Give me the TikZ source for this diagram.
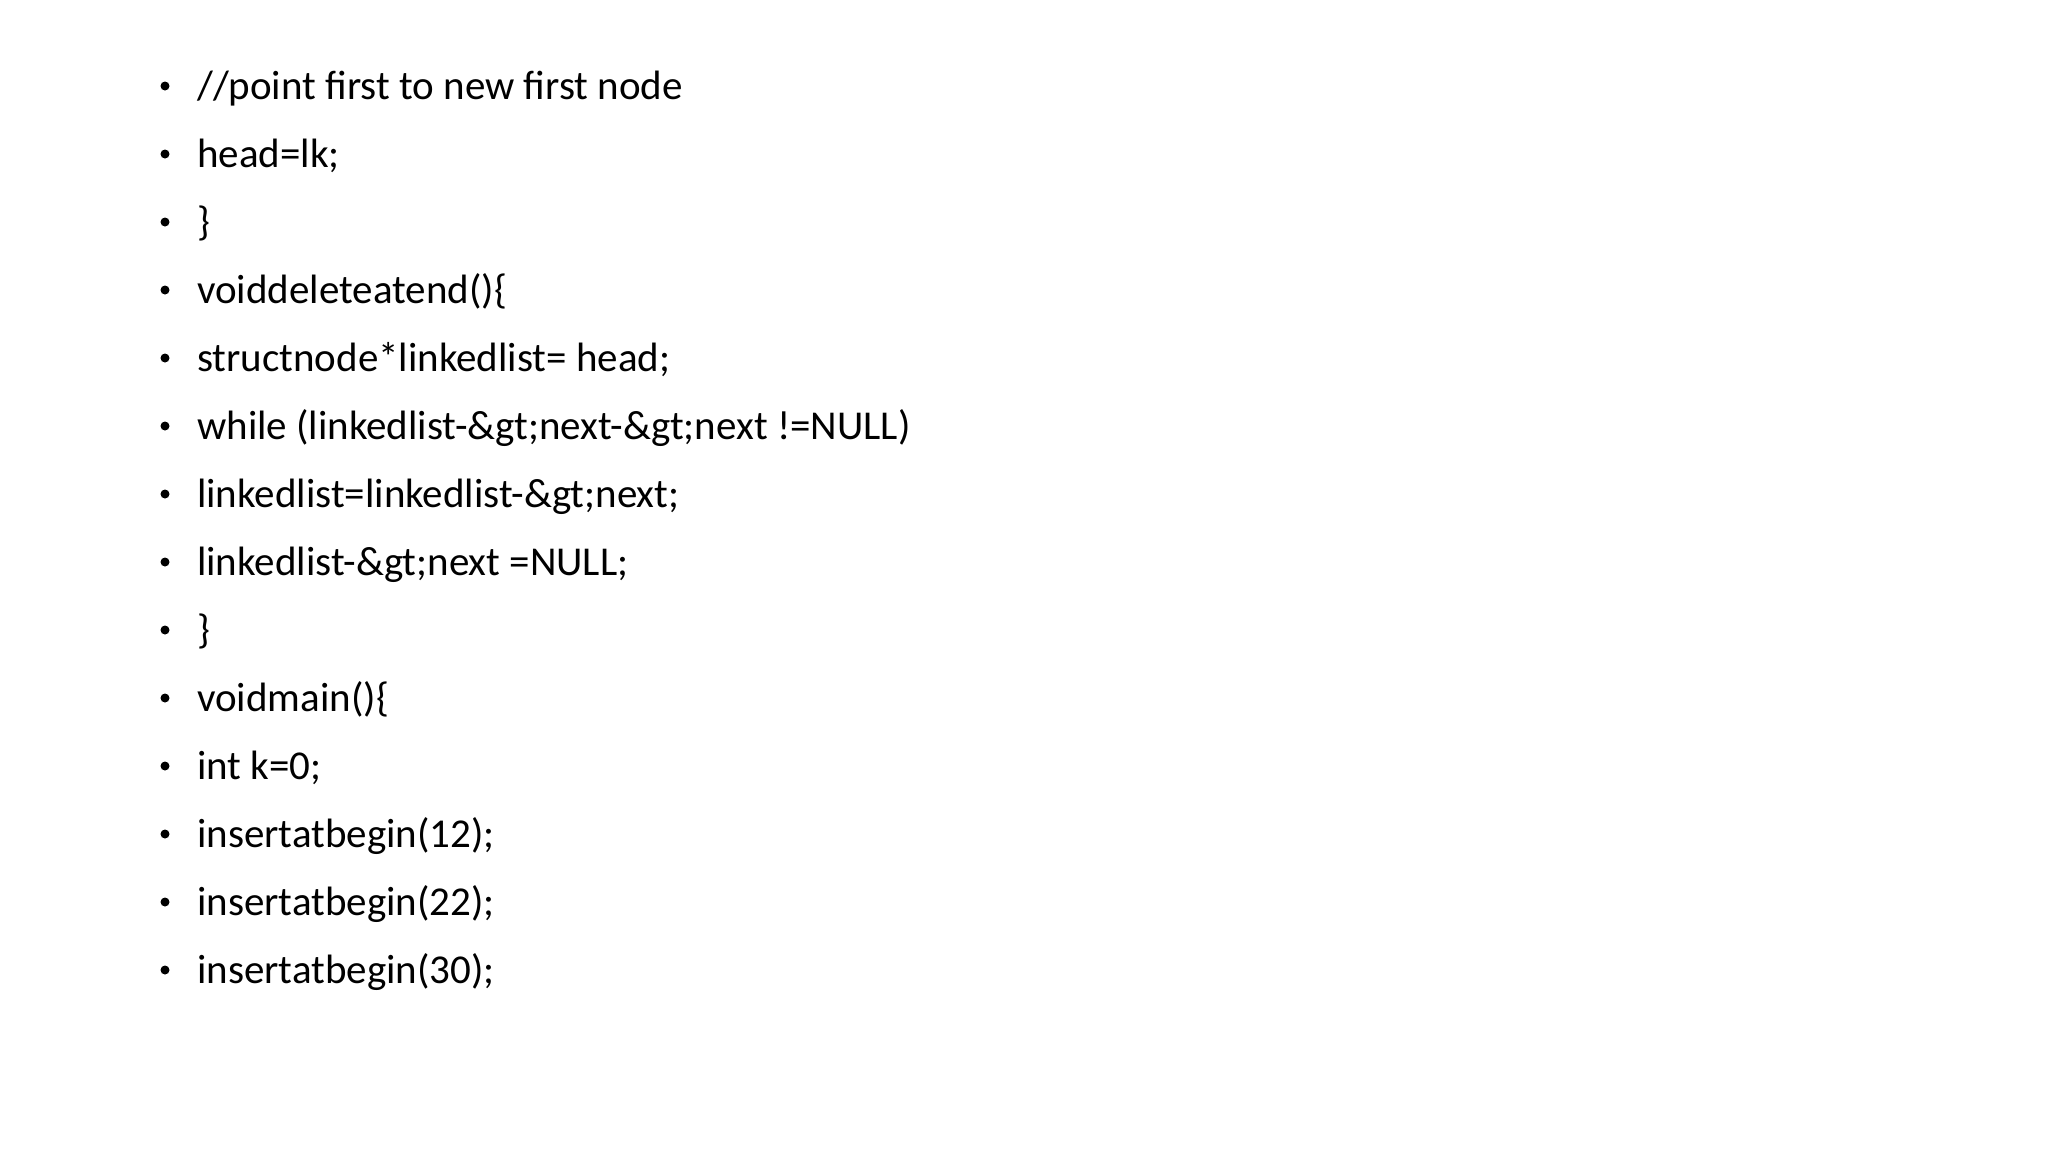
\documentclass[tikz,border=0pt]{standalone}
\usepackage{fontspec}
\setmainfont{Carlito}
\begin{document}
\begin{tikzpicture}[x=1pt,y=-1pt,
  line/.style={anchor=base west,inner sep=0pt,font=\fontsize{41}{49}\selectfont},
  dot/.style={circle,fill=black,inner sep=0pt,minimum size=9pt}]
\useasboundingbox (0,0) rectangle (2048,1152);
\foreach \t [count=\i from 0] in {%
 {//point first to new first node},
 {head=lk;},
 {\}},
 {voiddeleteatend()\{},
 {structnode*linkedlist= head;},
 {while (linkedlist-\&gt;next-\&gt;next !=NULL)},
 {linkedlist=linkedlist-\&gt;next;},
 {linkedlist-\&gt;next =NULL;},
 {\}},
 {voidmain()\{},
 {int k=0;},
 {insertatbegin(12);},
 {insertatbegin(22);},
 {insertatbegin(30);}}{
  \node[dot] (b\i) at (165,{86+68*\i}) {};
  \node[line] (t\i) at (197,{99+68*\i}) {\t};
}
\end{tikzpicture}
\end{document}
